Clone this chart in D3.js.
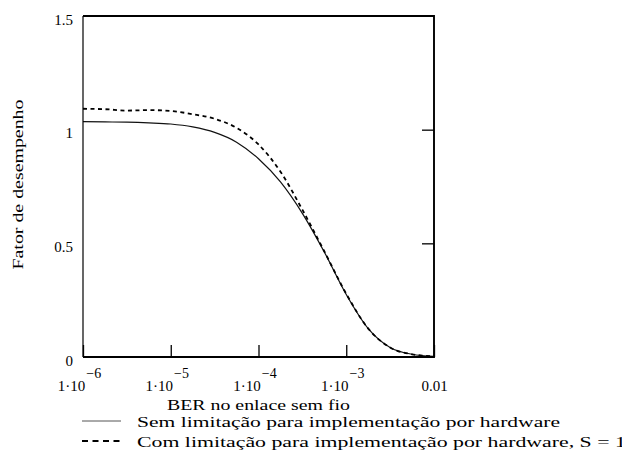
<!DOCTYPE html>
<html>
<head>
<meta charset="utf-8">
<script src="https://cdn.jsdelivr.net/npm/d3@7"></script>
<style>
  body { margin: 0; background: #fff; }
  text { font-family: "Liberation Serif", "Times New Roman", serif; fill: #000; }
</style>
</head>
<body>
<svg id="chart" width="622" height="459"></svg>
<script>
// Bit error rate on the wireless link (log axis)
const ber = [1e-6, 1.78e-6, 3.16e-6, 5.62e-6, 1e-5, 1.78e-5, 3.16e-5, 5.62e-5,
             1e-4, 1.78e-4, 3.16e-4, 5.62e-4, 1e-3, 1.78e-3, 3.16e-3, 5.62e-3, 1e-2];
// Performance factor without hardware implementation limits
const semLimitacao = [1.035, 1.034, 1.033, 1.030, 1.025, 1.012, 0.988, 0.945,
                      0.872, 0.770, 0.632, 0.462, 0.275, 0.125, 0.042, 0.012, 0.003];
// Performance factor with hardware implementation limits, S = 1
const comLimitacao = [1.092, 1.090, 1.084, 1.086, 1.082, 1.068, 1.048, 1.008,
                      0.935, 0.815, 0.648, 0.465, 0.278, 0.125, 0.042, 0.012, 0.003];

const xTicks = [1e-6, 1e-5, 1e-4, 1e-3, 1e-2];
const xTickExp = ["−6", "−5", "−4", "−3", null];
const yTicks = [0, 0.5, 1, 1.5];
const yTickLabels = ["0", "0.5", "1", "1.5"];
const yInnerTicks = [0.5, 1];
const legendLabels = [
  "Sem limitação para implementação por hardware",
  "Com limitação para implementação por hardware, S = 1"
];

const svg = d3.select("#chart");
const plotLeft = 83, plotRight = 434, plotTop = 16, plotBottom = 357;

const x = d3.scaleLog().domain([1e-6, 1e-2]).range([plotLeft, plotRight]);
const y = d3.scaleLinear().domain([0, 1.5]).range([plotBottom, plotTop]);

// Curves
const line = d3.line()
  .x((d, i) => x(ber[i]))
  .y(d => y(d))
  .curve(d3.curveMonotoneX);

svg.append("path")
  .datum(semLimitacao)
  .attr("d", line)
  .attr("fill", "none")
  .attr("stroke", "#111")
  .attr("stroke-width", 1.2);

svg.append("path")
  .datum(comLimitacao)
  .attr("d", line)
  .attr("fill", "none")
  .attr("stroke", "#000")
  .attr("stroke-width", 1.8)
  .attr("stroke-dasharray", "4,3.5");

// Bottom axis: inward ticks, labels written as 1·10 with a raised exponent
const gx = svg.append("g")
  .attr("transform", `translate(0,${plotBottom})`)
  .call(d3.axisBottom(x).tickValues(xTicks).tickSize(-12).tickSizeOuter(0).tickPadding(23));
gx.select(".domain").remove();
gx.selectAll(".tick line").attr("stroke", "#000").attr("stroke-width", 1.3);
gx.selectAll(".tick text")
  .attr("font-size", 15)
  .attr("font-family", null)
  .each(function(d, i) {
    const t = d3.select(this).text(null);
    if (xTickExp[i] === null) {
      t.append("tspan").text("0.01");
    } else {
      t.attr("dx", -4);
      t.append("tspan").text("1·10");
      t.append("tspan").attr("font-size", 14).attr("dx", 1).attr("dy", "-0.9em").text(xTickExp[i]);
    }
  });

// Left axis labels
const gy = svg.append("g")
  .attr("transform", `translate(${plotLeft},0)`)
  .call(d3.axisLeft(y).tickValues(yTicks).tickSize(0).tickPadding(10)
    .tickFormat((d, i) => yTickLabels[i]));
gy.select(".domain").remove();
gy.selectAll(".tick text").attr("font-size", 15).attr("font-family", null).attr("dy", "0.55em");

// Right axis: inward ticks only
const gr = svg.append("g")
  .attr("transform", `translate(${plotRight},0)`)
  .call(d3.axisRight(y).tickValues(yInnerTicks).tickSize(-12).tickSizeOuter(0).tickFormat(""));
gr.select(".domain").remove();
gr.selectAll(".tick line").attr("stroke", "#000").attr("stroke-width", 1.3);

// Plot frame: left edge lighter than the other three
const frame = svg.append("g").attr("fill", "none").attr("stroke", "#000");
frame.append("path")
  .attr("d", `M${plotLeft},${plotTop}H${plotRight}V${plotBottom}H${plotLeft}`)
  .attr("stroke-width", 1.9);
frame.append("line")
  .attr("x1", plotLeft).attr("x2", plotLeft).attr("y1", plotTop).attr("y2", plotBottom)
  .attr("stroke-width", 1.2);

// Axis titles
svg.append("text")
  .attr("x", (plotLeft + plotRight) / 2).attr("y", 410)
  .attr("text-anchor", "middle").attr("font-size", 15)
  .attr("textLength", 183).attr("lengthAdjust", "spacingAndGlyphs")
  .text("BER no enlace sem fio");

svg.append("text")
  .attr("transform", `translate(23,${(plotTop + plotBottom) / 2 - 2}) rotate(-90)`)
  .attr("text-anchor", "middle").attr("font-size", 15)
  .attr("textLength", 170).attr("lengthAdjust", "spacingAndGlyphs")
  .text("Fator de desempenho");

// Legend
const legend = svg.append("g");
const legendRows = [
  { label: legendLabels[0], y: 421, dash: null, width: 1, color: "#555" },
  { label: legendLabels[1], y: 441, dash: "6,4.5", width: 1.8, color: "#000" }
];
legendRows.forEach(r => {
  legend.append("line")
    .attr("x1", 82).attr("x2", 121).attr("y1", r.y).attr("y2", r.y)
    .attr("stroke", r.color).attr("stroke-width", r.width)
    .attr("stroke-dasharray", r.dash);
  legend.append("text")
    .attr("x", 137).attr("y", r.y + 6)
    .attr("font-size", 15)
    .attr("textLength", r.label.length * 9.4).attr("lengthAdjust", "spacingAndGlyphs")
    .text(r.label);
});
</script>
</body>
</html>
